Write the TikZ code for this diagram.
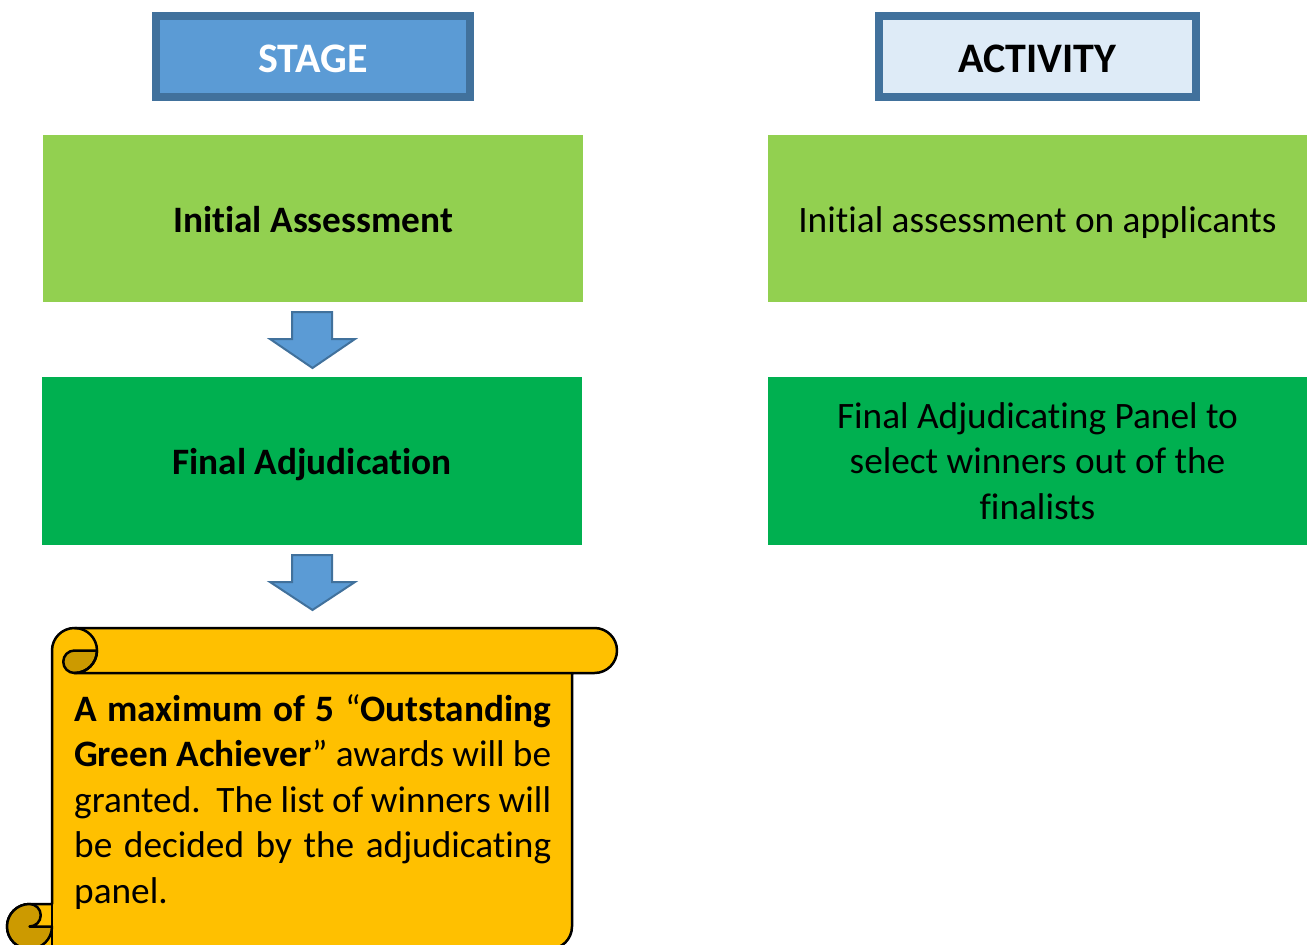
\documentclass[tikz,border=0pt]{standalone}
\usepackage{fontspec}
\setmainfont{Carlito}[Ligatures={NoCommon}]
\definecolor{stagefill}{HTML}{5B9BD5}
\definecolor{stageline}{HTML}{41719C}
\definecolor{actfill}{HTML}{DEEBF7}
\definecolor{lgreen}{HTML}{92D050}
\definecolor{dgreen}{HTML}{00B050}
\definecolor{scrollfill}{HTML}{FFC000}
\definecolor{scrolldark}{HTML}{CC9A00}
\tikzset{
  titlebox/.style={draw=stageline, line width=8pt, minimum width=314pt, minimum height=81pt,
    inner sep=0pt, font=\fontsize{42}{50}\selectfont\bfseries, text height=36pt, text depth=5pt},
  greenbox/.style={minimum width=540pt, minimum height=167pt, inner sep=0pt,
    font=\fontsize{37.3}{45.5}\selectfont, text height=32pt, text depth=5pt},
  multibox/.style={minimum width=539pt, minimum height=168pt, inner sep=0pt,
    font=\fontsize{37.3}{45.5}\selectfont, align=center},
  blockarrow/.style={fill=stagefill, draw=stageline, line width=2pt, line join=miter},
  scrollline/.style={draw=black, line width=2.5pt, line join=round},
}
\begin{document}
\begin{tikzpicture}[x=1pt,y=-1pt]
\useasboundingbox (0,0) rectangle (1310,945);
% headers
\node[titlebox, fill=stagefill, text=white] (stage) at (313,56.5) {STAGE};
\node[titlebox, fill=actfill, text=black, minimum width=317pt] (activity) at (1037.5,56.5) {ACTIVITY};
% stage boxes
\node[greenbox, fill=lgreen] (ia) at (313,218.5) {\bfseries Initial Assessment};
\node[greenbox, fill=dgreen, minimum height=168pt] (fa) at (312,461) {\bfseries Final Adjudication};
% activity boxes
\node[greenbox, fill=lgreen, minimum width=539pt] (iaa) at (1037.5,218.5) {Initial assessment on applicants};
\node[multibox, fill=dgreen] (faa) at (1037.5,461) {Final Adjudicating Panel to\\select winners out of the\\finalists};
% block arrows
\draw[blockarrow] (292,312) -- (332,312) -- (332,339) -- (355,339) -- (312.5,368) -- (270,339) -- (292,339) -- cycle;
\draw[blockarrow] (292,555) -- (332,555) -- (332,582) -- (355,582) -- (312.5,610) -- (270,582) -- (292,582) -- cycle;
% scroll
\path[scrollline, fill=scrollfill] (29.5,949) -- (549.5,949) arc[start angle=90, end angle=0, radius=22.5]
  -- (572,673) -- (594.5,673) arc[start angle=90, end angle=-90, radius=22.5]
  -- (74.5,628) arc[start angle=-90, end angle=-180, radius=22.5]
  -- (52,904) -- (29.5,904) arc[start angle=-90, end angle=-270, radius=22.5] -- cycle;
% top-left curl
\path[scrollline, fill=scrolldark] (74.5,650.5) arc[start angle=-90, end angle=-270, radius=11.25]
  arc[start angle=90, end angle=0, radius=22.5] -- cycle;
\draw[scrollline] (74.5,628) arc[start angle=-90, end angle=90, radius=22.5] -- (572,673);
% bottom-left curl
\path[scrollline, fill=scrolldark] (29.5,904) arc[start angle=-90, end angle=90, radius=11.25]
  -- (52,926.5) arc[start angle=0, end angle=270, radius=22.5] -- cycle;
\draw[scrollline] (52,904) -- (52,949);
% scroll text
\node[anchor=base west, inner sep=0pt] (note) at (74,721) {\parbox[t]{477pt}{\fontsize{37.3}{45.5}\selectfont\hyphenpenalty=10000
\textbf{A maximum of 5 }“\textbf{Outstanding}\linebreak
\textbf{Green Achiever}” awards will be\linebreak
granted.\ \ The list of winners will\linebreak
be decided by the adjudicating\linebreak
panel.}};
\end{tikzpicture}
\end{document}
